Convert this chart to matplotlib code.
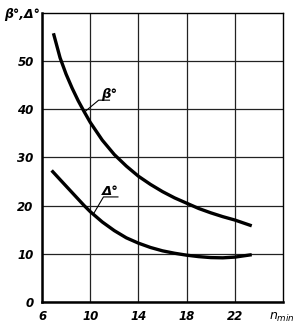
import matplotlib
matplotlib.use("Agg")
import matplotlib.pyplot as plt

n_beta = [6.95, 7.5, 8.0, 8.5, 9.0, 9.5, 10.0, 11.0, 12.0, 13.0, 14.0, 15.0, 16.0,
          17.0, 18.0, 19.0, 20.0, 21.0, 22.0, 23.4]
beta = [55.8, 50.7, 47.3, 44.4, 41.8, 39.5, 37.3, 33.6, 30.6, 28.2, 26.1, 24.4, 22.9,
        21.6, 20.5, 19.4, 18.5, 17.7, 17.0, 15.8]

n_delta = [6.8, 7.5, 8.0, 8.5, 9.0, 9.5, 10.0, 11.0, 12.0, 13.0, 14.0, 15.0, 16.0,
           17.0, 18.0, 19.0, 20.0, 21.0, 22.0, 23.4]
delta = [27.3, 25.4, 24.05, 22.7, 21.35, 20.0, 18.75, 16.6, 14.8, 13.3, 12.2, 11.3, 10.6,
         10.1, 9.7, 9.4, 9.2, 9.15, 9.3, 9.8]

xticks = [6, 10, 14, 18, 22]
yticks = [0, 10, 20, 30, 40, 50]

fig = plt.figure(figsize=(3.01, 3.26), dpi=100)
ax = fig.add_axes([0.1395, 0.074, 0.801, 0.886])

ax.plot(n_beta, beta, color="black", lw=2.4, solid_capstyle="butt", solid_joinstyle="round")
ax.plot(n_delta, delta, color="black", lw=2.4, solid_capstyle="butt", solid_joinstyle="round")

ax.set_xlim(6, 26)
ax.set_ylim(0, 60)
ax.set_xticks(xticks)
ax.set_yticks(yticks)
ax.grid(True, color="#222222", lw=0.9)
ax.tick_params(length=0, pad=6)
for lab in ax.get_xticklabels() + ax.get_yticklabels():
    lab.set_fontstyle("italic")
    lab.set_fontweight("bold")
    lab.set_fontsize(8.5)

for side in ["left", "bottom"]:
    ax.spines[side].set_linewidth(1.8)
for side in ["top", "right"]:
    ax.spines[side].set_linewidth(1.0)

# leader lines and curve labels
ax.plot([9.6, 10.7, 11.6], [39.6, 41.9, 41.9], color="black", lw=0.8)
ax.text(10.9, 42.3, "β°", fontsize=9.5, fontstyle="italic", fontweight="bold")
ax.plot([10.3, 11.1, 12.3], [18.4, 21.8, 21.8], color="black", lw=0.8)
ax.text(11.0, 22.2, "Δ°", fontsize=9.5, fontstyle="italic", fontweight="bold")

fig.text(0.015, 0.945, "β°,Δ°", fontsize=9, fontstyle="italic", fontweight="bold")
fig.text(0.895, 0.02, "$n_{min}$", fontsize=9)

fig.savefig("out.png", dpi=100)
